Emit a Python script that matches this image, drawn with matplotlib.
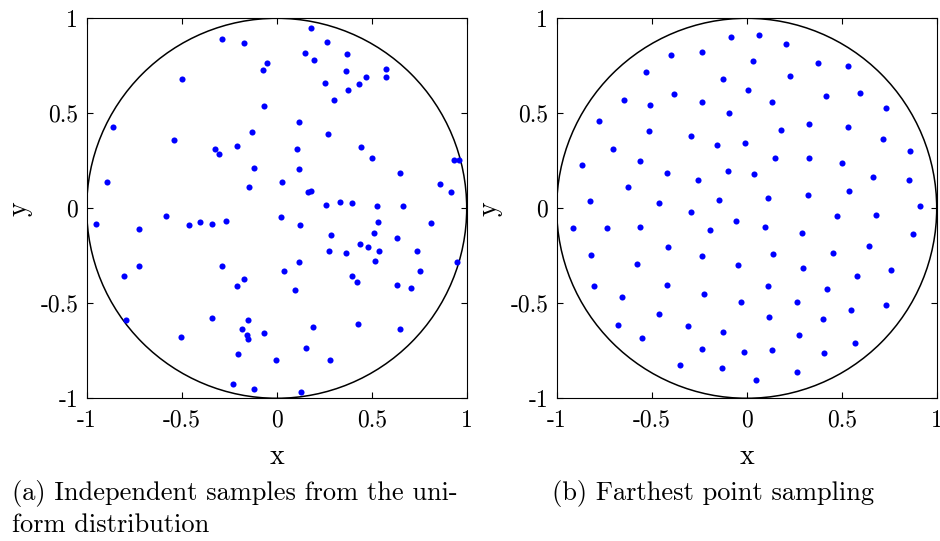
import matplotlib
matplotlib.use("Agg")
import matplotlib.pyplot as plt
from matplotlib.patches import Circle
import numpy as np

plt.rcParams["font.family"] = "serif"
plt.rcParams["font.serif"] = ["cmr10", "DejaVu Serif"]
plt.rcParams["mathtext.fontset"] = "cm"
plt.rcParams["axes.unicode_minus"] = False

# (a) independent uniform samples
xa = [-0.29, -0.17, -0.053, -0.074, -0.498, -0.068, -0.862, -0.132, -0.542, -0.326,
      -0.305, -0.211, -0.118, -0.893, -0.146,
      0.181, 0.263, 0.147, 0.198, 0.372, 0.367, 0.254, 0.377, 0.433, 0.472,
      0.575, 0.575, 0.302, 0.117, 0.268, 0.105, 0.445, 0.502, 0.117, 0.647,
      0.026, 0.163, 0.181, 0.933, 0.961, 0.861, 0.919,
      -0.951, -0.725, -0.583, -0.462, -0.404, -0.339, -0.265, -0.723, -0.805, -0.288,
      -0.171, -0.211, -0.793, -0.342, -0.149, -0.181, -0.158, -0.151, -0.504, -0.067,
      -0.202, -0.002, -0.23, -0.121,
      0.258, 0.332, 0.395, 0.526, 0.665, 0.023, 0.123, 0.531, 0.81, 0.287,
      0.512, 0.632, 0.438, 0.481, 0.277, 0.365, 0.537, 0.737, 0.117, 0.516,
      0.949, 0.037, 0.753, 0.395, 0.423, 0.096, 0.632, 0.707, 0.193, 0.43,
      0.647, 0.156, 0.282, 0.126]
ya = [0.893, 0.872, 0.766, 0.73, 0.682, 0.54, 0.428, 0.403, 0.358, 0.312,
      0.284, 0.328, 0.21, 0.138, 0.114,
      0.949, 0.875, 0.817, 0.782, 0.814, 0.721, 0.658, 0.623, 0.656, 0.691,
      0.732, 0.693, 0.572, 0.453, 0.389, 0.314, 0.321, 0.265, 0.205, 0.187,
      0.137, 0.087, 0.091, 0.253, 0.253, 0.128, 0.087,
      -0.084, -0.107, -0.039, -0.09, -0.072, -0.083, -0.069, -0.305, -0.358, -0.302,
      -0.374, -0.407, -0.589, -0.579, -0.586, -0.637, -0.667, -0.688, -0.679, -0.655,
      -0.768, -0.8, -0.926, -0.949,
      0.019, 0.033, 0.028, 0.012, 0.012, -0.044, -0.088, -0.074, -0.077, -0.139,
      -0.13, -0.156, -0.19, -0.205, -0.225, -0.235, -0.223, -0.223, -0.281, -0.279,
      -0.283, -0.328, -0.328, -0.356, -0.389, -0.432, -0.402, -0.42, -0.626, -0.611,
      -0.637, -0.734, -0.797, -0.965]

# (b) farthest point sampling
xb = [-0.084, -0.397, -0.234, -0.53, -0.125, -0.646, -0.507, -0.383, -0.234, -0.093,
      -0.779, -0.514, -0.295, -0.155, -0.007, -0.702, -0.865, -0.562, -0.421, -0.1,
      -0.258, -0.623, -0.826, -0.462, -0.147,
      0.065, 0.205, 0.033, 0.375, 0.532, 0.228, 0.008, 0.133, 0.416, 0.595,
      0.733, 0.181, 0.328, 0.532, 0.719, 0.859, 0.149, 0.328, 0.502, 0.04,
      0.665, 0.853, 0.112, 0.321, 0.538, 0.914,
      -0.295, -0.054, -0.912, -0.734, -0.562, -0.193, -0.818, -0.413, -0.576, -0.234,
      -0.046, -0.804, -0.421, -0.655, -0.226, -0.03, -0.46, -0.679, -0.311, -0.553,
      -0.125, -0.234, -0.016, -0.349, -0.132,
      0.477, 0.679, 0.095, 0.289, 0.874, 0.642, 0.14, 0.454, 0.298, 0.579,
      0.758, 0.11, 0.423, 0.265, 0.547, 0.733, 0.117, 0.4, 0.274, 0.57,
      0.133, 0.407, 0.047, 0.265]
yb = [0.9, 0.805, 0.821, 0.719, 0.681, 0.57, 0.545, 0.602, 0.561, 0.5,
      0.461, 0.405, 0.382, 0.335, 0.344, 0.312, 0.226, 0.249, 0.186, 0.195,
      0.147, 0.111, 0.038, 0.03, 0.045,
      0.914, 0.866, 0.774, 0.765, 0.751, 0.695, 0.624, 0.561, 0.593, 0.608,
      0.53, 0.412, 0.444, 0.428, 0.366, 0.303, 0.265, 0.265, 0.24, 0.179,
      0.163, 0.147, 0.053, 0.068, 0.091, 0.012,
      -0.018, -0.065, -0.104, -0.104, -0.097, -0.113, -0.244, -0.205, -0.291, -0.253,
      -0.3, -0.409, -0.402, -0.465, -0.449, -0.495, -0.558, -0.614, -0.621, -0.683,
      -0.653, -0.739, -0.755, -0.825, -0.84,
      -0.041, -0.034, -0.097, -0.128, -0.135, -0.198, -0.242, -0.237, -0.316, -0.355,
      -0.323, -0.409, -0.425, -0.495, -0.535, -0.51, -0.574, -0.581, -0.667, -0.707,
      -0.746, -0.762, -0.904, -0.863]

ticks = [-1, -0.5, 0, 0.5, 1]
tick_labels = ["-1", "-0.5", "0", "0.5", "1"]

fig = plt.figure(figsize=(9.4, 5.41), dpi=100)
ax1 = fig.add_axes([0.0922, 0.2638, 0.4043, 0.7024])
ax2 = fig.add_axes([0.5922, 0.2638, 0.4043, 0.7024])

for ax, xs, ys in [(ax1, xa, ya), (ax2, xb, yb)]:
    ax.add_patch(Circle((0, 0), 1, fill=False, ec="black", lw=1.1, zorder=1))
    ax.plot(xs, ys, "o", color=(0, 0, 1), ms=4.4, mec="none", zorder=2)
    ax.set_xlim(-1, 1)
    ax.set_ylim(-1, 1)
    ax.set_xticks(ticks)
    ax.set_yticks(ticks)
    ax.set_xticklabels(tick_labels, fontsize=17)
    ax.set_yticklabels(tick_labels, fontsize=17)
    ax.tick_params(direction="in", length=4, width=0.8, top=True, right=True, pad=6)
    ax.tick_params(axis="x", pad=8)
    for s in ax.spines.values():
        s.set_linewidth(0.8)
    ax.set_xlabel("x", fontsize=20, labelpad=9)
    ax.set_ylabel("y", fontsize=20, labelpad=6)

fig.text(0.0124, 0.0758, "(a) Independent samples from the uni-", fontsize=19, va="baseline")
fig.text(0.0124, 0.0172, "form distribution", fontsize=19, va="baseline")
fig.text(0.587, 0.0758, "(b) Farthest point sampling", fontsize=19, va="baseline")

fig.savefig("out.png", dpi=100)
